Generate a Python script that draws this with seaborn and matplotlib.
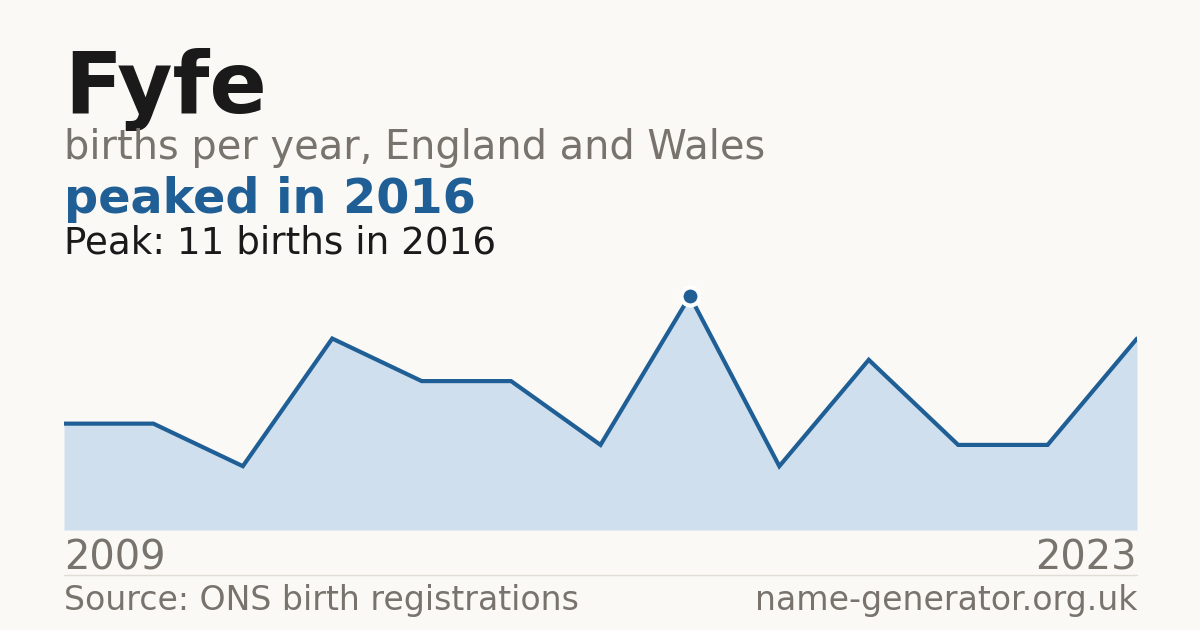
import numpy as np
import pandas as pd
import matplotlib
matplotlib.use("Agg")
import matplotlib.pyplot as plt
from matplotlib.lines import Line2D
import seaborn as sns

# --- data (years with a published count) ---
years = [2009, 2010, 2011, 2012, 2013, 2014, 2015, 2016, 2018, 2019, 2021, 2022, 2023]
births = [5, 5, 3, 9, 7, 7, 4, 11, 3, 8, 4, 4, 9]

name = "Fyfe"
subtitle = "births per year, England and Wales"
headline = "peaked in 2016"
source = "Source: ONS birth registrations"
site = "name-generator.org.uk"

bg = "#faf9f5"
blue = "#1f5f96"
fill = "#cfdfee"
grey = "#78736c"
ink = "#1a1a1a"

df = pd.DataFrame({"year": years, "births": births})
df["pos"] = np.arange(len(df))
peak = df.loc[df["births"].idxmax()]

sns.set_style("white")
plt.rcParams["font.family"] = ["DejaVu Sans"]

W, H = 1200, 630
fig = plt.figure(figsize=(12, 6.3), dpi=100, facecolor=bg)

# plot area in pixels: x 64..1137, baseline at y=530
ymax = peak["births"] * 1.08
px_per_unit = (530 - 296) / peak["births"]
top = 530 - ymax * px_per_unit
ax = fig.add_axes([64 / W, (H - 530) / H, (1137 - 64) / W, (530 - top) / H])
ax.set_facecolor(bg)

ax.fill_between(df["pos"], df["births"], 0, color=fill, lw=0)
sns.lineplot(data=df, x="pos", y="births", ax=ax, color=blue, lw=3.0, solid_joinstyle="miter")
ax.plot([peak["pos"]], [peak["births"]], "o", ms=13, color=blue, mec="white", mew=3, zorder=5)

ax.set_xlim(df["pos"].min(), df["pos"].max())
ax.set_ylim(0, ymax)
ax.axis("off")

def fy(y):
    return 1 - y / H

# header text
fig.text(64 / W, fy(113), name, fontsize=61, fontweight="bold", color=ink, va="baseline")
fig.text(64 / W, fy(159), subtitle, fontsize=28.7, color=grey, va="baseline")
fig.text(64 / W, fy(213), headline, fontsize=34.4, fontweight="bold", color=blue, va="baseline")
fig.text(64 / W, fy(253), f"Peak: {int(peak['births'])} births in {int(peak['year'])}",
         fontsize=26.8, color=ink, va="baseline")

# year labels at ends
fig.text(64 / W, fy(569), str(years[0]), fontsize=28.8, color=grey, va="baseline")
fig.text(1137 / W, fy(569), str(years[-1]), fontsize=28.8, color=grey, va="baseline", ha="right")

# separator and footer
fig.add_artist(Line2D([64 / W, 1137 / W], [fy(574.5), fy(574.5)], color="#e0ddd6", lw=1))
fig.text(64 / W, fy(610), source, fontsize=23.9, color=grey, va="baseline")
fig.text(1137 / W, fy(610), site, fontsize=23.9, color=grey, va="baseline", ha="right")

fig.savefig("out.png", dpi=100, facecolor=bg)
